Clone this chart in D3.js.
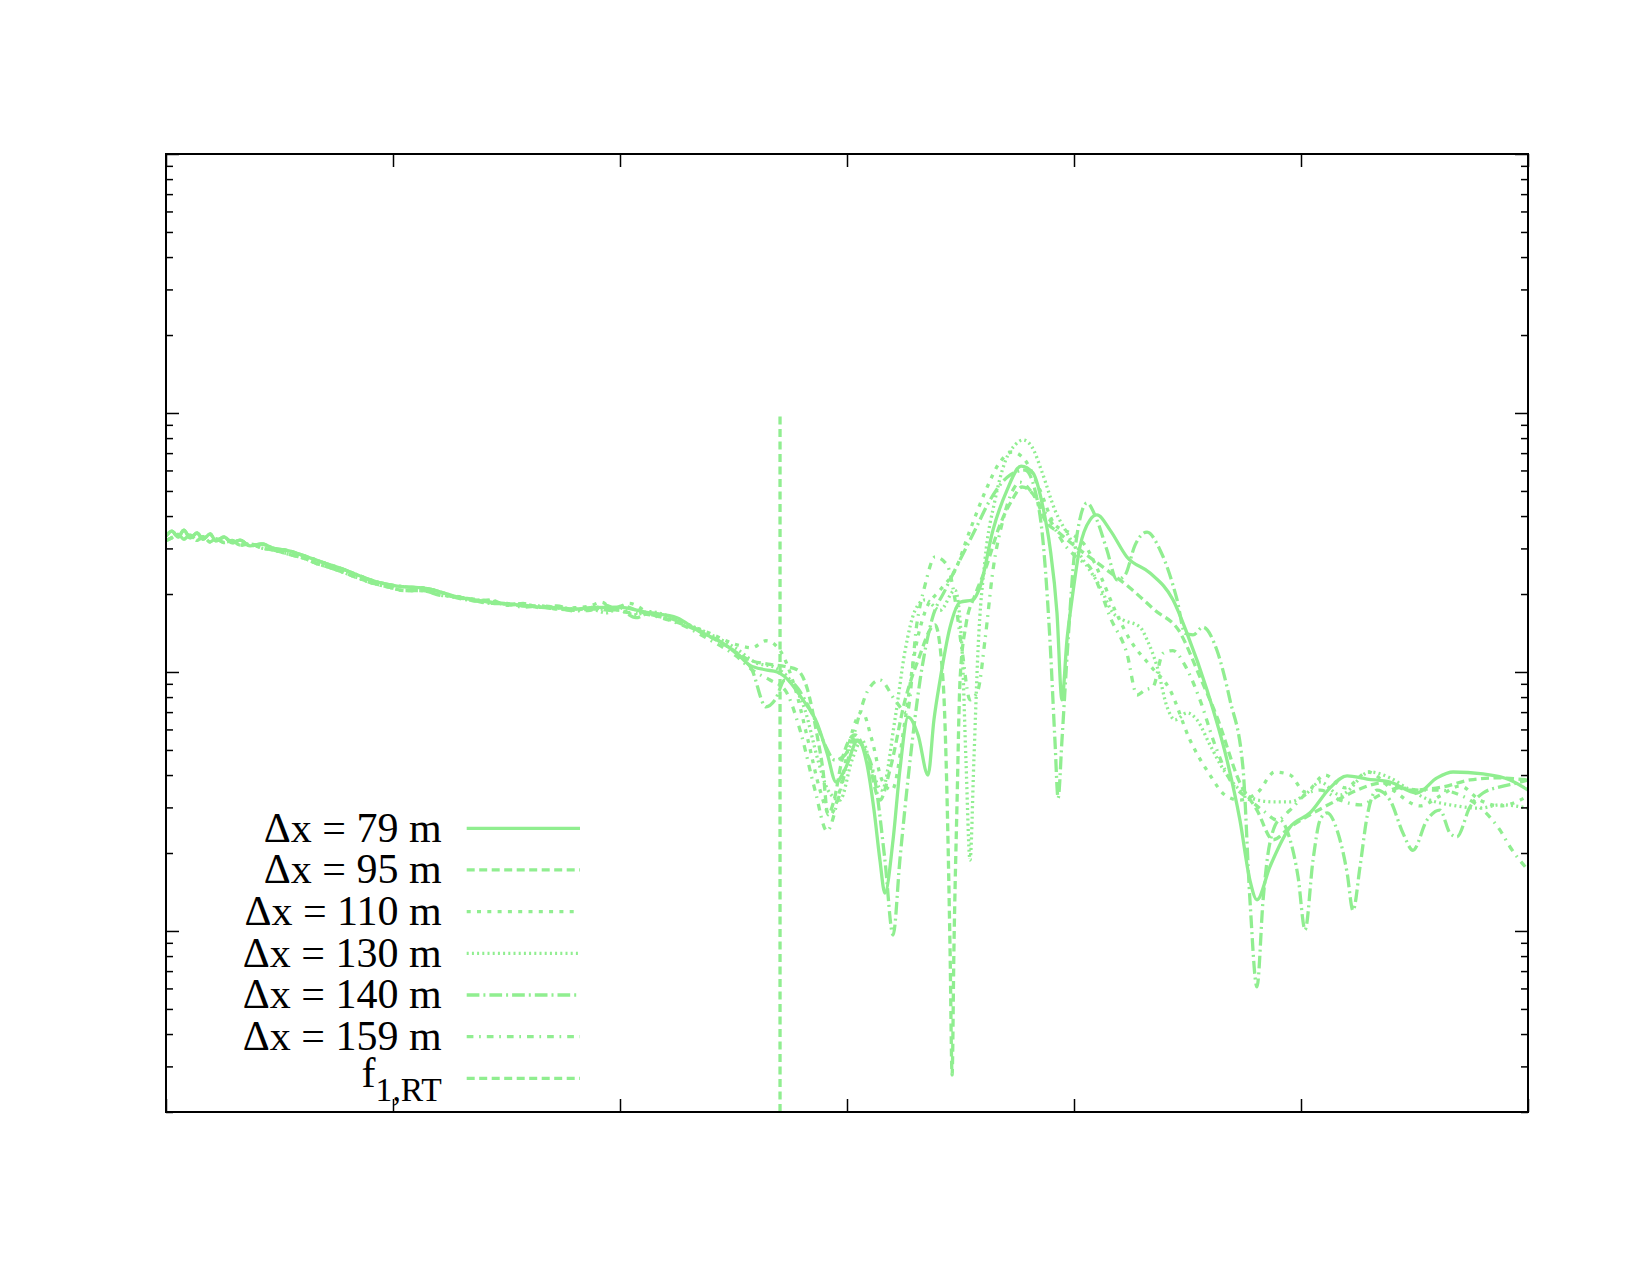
<!DOCTYPE html>
<html><head><meta charset="utf-8">
<script src="https://cdn.jsdelivr.net/npm/d3@7"></script>
<style>html,body{margin:0;padding:0;background:#fff}svg{display:block}</style>
</head><body>
<svg id="chart" width="1650" height="1275"></svg>
<script>
// ---------------- data ----------------
const xTicks = [0, 1, 2, 3, 4, 5, 6];
const yMajorTicks = [1e-3, 1e-2, 1e-1, 1];
const yMinorMultipliers = [2, 3, 4, 5, 6, 7, 8, 9];
const seriesLabels = ["Δx = 79 m", "Δx = 95 m", "Δx = 110 m", "Δx = 130 m", "Δx = 140 m", "Δx = 159 m"];

// common low-frequency part (upper and lower edge of the overlapping band)
const baseLeftA = [[0,0.0335],[0.026,0.0350],[0.053,0.0332],[0.079,0.0353],[0.106,0.0329],[0.137,0.0344],[0.163,0.0326],[0.194,0.0341],[0.220,0.0321],[0.256,0.0332],[0.291,0.0315],[0.326,0.0323],[0.370,0.0307],[0.423,0.0312],[0.471,0.0301],[0.546,0.0293],[0.612,0.0280],[0.665,0.0270],[0.722,0.0259],[0.767,0.0252],[0.833,0.0239],[0.912,0.0225],[0.987,0.0217],[1.053,0.0213],[1.132,0.0211],[1.207,0.0204]];
const baseLeftB = [[0,0.0322],[0.026,0.0330],[0.053,0.0340],[0.079,0.0326],[0.106,0.0338],[0.137,0.0322],[0.163,0.0333],[0.194,0.0318],[0.220,0.0327],[0.256,0.0316],[0.291,0.0322],[0.326,0.0309],[0.370,0.0312],[0.423,0.0301],[0.471,0.0296],[0.546,0.0284],[0.612,0.0274],[0.665,0.0262],[0.722,0.0253],[0.767,0.0245],[0.833,0.0233],[0.912,0.0220],[0.987,0.0212],[1.053,0.0206],[1.132,0.0206],[1.207,0.0198]];

const dx79 = [[1.282,0.0195],[1.361,0.0190],[1.427,0.0186],[1.502,0.0183],[1.573,0.0181],[1.648,0.0178],[1.722,0.0177],[1.802,0.0175],[1.868,0.0177],[1.987,0.0178],[2.132,0.0169],[2.251,0.0162],[2.339,0.0145],[2.454,0.0129],[2.515,0.0118],[2.573,0.0106],[2.639,0.0102],[2.692,0.0100],[2.722,0.00965],[2.806,0.00780],[2.868,0.00635],[2.912,0.00487],[2.952,0.00376],[2.996,0.00430],[3.048,0.00546],[3.084,0.00457],[3.119,0.00293],[3.145,0.00188],[3.167,0.00140],[3.203,0.00225],[3.233,0.00418],[3.269,0.00670],[3.313,0.00571],[3.357,0.00400],[3.383,0.00653],[3.410,0.00931],[3.454,0.0149],[3.498,0.0186],[3.555,0.0190],[3.586,0.0213],[3.643,0.0353],[3.705,0.0504],[3.767,0.0624],[3.819,0.0587],[3.863,0.0434],[3.894,0.0304],[3.925,0.0169],[3.947,0.00780],[3.969,0.0133],[3.991,0.0190],[4.026,0.0304],[4.070,0.0386],[4.101,0.0404],[4.159,0.0353],[4.233,0.0278],[4.335,0.0241],[4.436,0.0190],[4.498,0.0141],[4.586,0.00852],[4.674,0.00457],[4.731,0.00268],[4.775,0.00157],[4.806,0.00132],[4.863,0.00177],[4.952,0.00252],[5.040,0.00286],[5.128,0.00357],[5.203,0.00397],[5.291,0.00386],[5.392,0.00376],[5.511,0.00341],[5.599,0.00390],[5.670,0.00411],[5.802,0.00404],[5.921,0.00383],[6.000,0.00350]];

const dx95 = [[1.282,0.0196],[1.361,0.0188],[1.427,0.0190],[1.502,0.0181],[1.573,0.0184],[1.648,0.0177],[1.722,0.0180],[1.802,0.0173],[1.868,0.0178],[1.956,0.0173],[2.010,0.0180],[2.088,0.0171],[2.220,0.0159],[2.352,0.0143],[2.463,0.0127],[2.573,0.0111],[2.661,0.0107],[2.727,0.0105],[2.780,0.0102],[2.824,0.00867],[2.868,0.00571],[2.894,0.00418],[2.916,0.00281],[2.943,0.00320],[2.978,0.00457],[3.035,0.00571],[3.093,0.00457],[3.145,0.00320],[3.189,0.00418],[3.256,0.00780],[3.313,0.0111],[3.388,0.0152],[3.423,0.00931],[3.441,0.00320],[3.454,0.000845],[3.463,0.000278],[3.471,0.000845],[3.485,0.00320],[3.498,0.00931],[3.524,0.0152],[3.564,0.0198],[3.608,0.0247],[3.674,0.0370],[3.727,0.0461],[3.771,0.0518],[3.828,0.0474],[3.872,0.0386],[3.930,0.0347],[4.026,0.0296],[4.115,0.0259],[4.247,0.0211],[4.357,0.0173],[4.463,0.0144],[4.555,0.00956],[4.630,0.00670],[4.731,0.00373],[4.806,0.00293],[4.877,0.00225],[4.952,0.00252],[5.040,0.00281],[5.159,0.00320],[5.247,0.00350],[5.361,0.00373],[5.480,0.00350],[5.626,0.00360],[5.744,0.00383],[5.863,0.00390],[6.000,0.00383]];

const dx110 = [[1.282,0.0193],[1.361,0.0191],[1.427,0.0184],[1.502,0.0184],[1.573,0.0180],[1.648,0.0180],[1.722,0.0175],[1.802,0.0177],[1.868,0.0180],[1.920,0.0186],[1.970,0.0174],[2.040,0.0184],[2.132,0.0168],[2.264,0.0156],[2.396,0.0141],[2.507,0.0128],[2.581,0.0124],[2.643,0.0132],[2.705,0.0121],[2.771,0.00867],[2.828,0.00546],[2.881,0.00350],[2.925,0.00281],[2.969,0.00350],[3.013,0.00546],[3.066,0.00701],[3.110,0.00546],[3.154,0.00383],[3.198,0.00350],[3.256,0.00653],[3.300,0.0121],[3.344,0.0171],[3.410,0.0207],[3.476,0.0247],[3.542,0.0353],[3.608,0.0495],[3.674,0.0647],[3.727,0.0707],[3.784,0.0658],[3.850,0.0504],[3.916,0.0370],[3.982,0.0344],[4.048,0.0309],[4.115,0.0237],[4.181,0.0173],[4.247,0.0133],[4.335,0.0106],[4.423,0.00852],[4.511,0.00546],[4.599,0.00400],[4.665,0.00335],[4.731,0.00320],[4.811,0.00344],[4.885,0.00411],[4.952,0.00400],[5.018,0.00344],[5.106,0.00400],[5.194,0.00357],[5.295,0.00411],[5.405,0.00350],[5.524,0.00304],[5.612,0.00332],[5.700,0.00363],[5.789,0.00320],[5.877,0.00304],[6.000,0.00332]];

const dx130 = [[1.282,0.0195],[1.361,0.0190],[1.427,0.0188],[1.502,0.0183],[1.573,0.0183],[1.648,0.0178],[1.722,0.0178],[1.802,0.0175],[1.868,0.0175],[1.940,0.0169],[2.000,0.0177],[2.060,0.0166],[2.132,0.0171],[2.264,0.0157],[2.396,0.0140],[2.507,0.0124],[2.595,0.0109],[2.683,0.0104],[2.749,0.00931],[2.815,0.00713],[2.872,0.00457],[2.916,0.00350],[2.969,0.00320],[3.022,0.00457],[3.066,0.00546],[3.110,0.00418],[3.154,0.00350],[3.211,0.00653],[3.256,0.0121],[3.300,0.0173],[3.344,0.0190],[3.410,0.0173],[3.476,0.0207],[3.507,0.0121],[3.524,0.00457],[3.542,0.00188],[3.559,0.00457],[3.577,0.0121],[3.608,0.0271],[3.652,0.0461],[3.696,0.0647],[3.740,0.0752],[3.775,0.0787],[3.815,0.0739],[3.859,0.0592],[3.916,0.0422],[3.969,0.0344],[4.040,0.0271],[4.115,0.0213],[4.172,0.0169],[4.216,0.0159],[4.291,0.0149],[4.322,0.0133],[4.366,0.0105],[4.410,0.00733],[4.445,0.00653],[4.498,0.00695],[4.542,0.00653],[4.599,0.00523],[4.665,0.00411],[4.731,0.00350],[4.811,0.00320],[4.885,0.00315],[4.952,0.00315],[5.026,0.00341],[5.084,0.00376],[5.172,0.00335],[5.304,0.00411],[5.392,0.00390],[5.480,0.00350],[5.568,0.00320],[5.656,0.00307],[5.789,0.00298],[5.877,0.00307],[6.000,0.00298]];

const dx140 = [[1.282,0.0193],[1.361,0.0188],[1.427,0.0184],[1.502,0.0183],[1.573,0.0180],[1.648,0.0178],[1.722,0.0175],[1.802,0.0173],[1.868,0.0175],[2.000,0.0173],[2.070,0.0162],[2.132,0.0169],[2.264,0.0156],[2.396,0.0138],[2.507,0.0119],[2.581,0.0102],[2.643,0.00733],[2.683,0.00780],[2.727,0.00931],[2.771,0.00891],[2.815,0.00780],[2.859,0.00653],[2.903,0.00523],[2.947,0.00457],[2.991,0.00478],[3.035,0.00546],[3.079,0.00500],[3.123,0.00383],[3.167,0.00188],[3.203,0.000965],[3.233,0.00188],[3.278,0.00457],[3.322,0.00931],[3.374,0.0159],[3.432,0.0207],[3.498,0.0271],[3.564,0.0353],[3.630,0.0461],[3.718,0.0576],[3.784,0.0602],[3.828,0.0504],[3.863,0.0323],[3.894,0.0133],[3.916,0.00546],[3.930,0.00326],[3.947,0.00546],[3.974,0.0133],[4.004,0.0296],[4.057,0.0449],[4.101,0.0386],[4.145,0.0296],[4.189,0.0227],[4.225,0.0237],[4.269,0.0309],[4.322,0.0347],[4.379,0.0296],[4.454,0.0190],[4.489,0.0141],[4.524,0.0139],[4.568,0.0149],[4.630,0.0121],[4.687,0.00780],[4.744,0.00430],[4.775,0.00132],[4.806,0.000608],[4.833,0.00132],[4.863,0.00219],[4.907,0.00268],[4.952,0.00225],[4.987,0.00162],[5.018,0.00101],[5.053,0.00188],[5.084,0.00268],[5.115,0.00286],[5.159,0.00245],[5.203,0.00168],[5.229,0.00120],[5.260,0.00177],[5.291,0.00276],[5.335,0.00350],[5.392,0.00320],[5.449,0.00239],[5.493,0.00205],[5.555,0.00268],[5.612,0.00293],[5.656,0.00239],[5.687,0.00231],[5.744,0.00301],[5.802,0.00341],[5.877,0.00360],[5.952,0.00373],[6.000,0.00383]];

const dx159 = [[1.282,0.0196],[1.361,0.0190],[1.427,0.0186],[1.502,0.0184],[1.573,0.0178],[1.648,0.0180],[1.722,0.0177],[1.802,0.0172],[1.868,0.0173],[1.930,0.0181],[2.000,0.0172],[2.132,0.0166],[2.264,0.0153],[2.396,0.0133],[2.507,0.0116],[2.595,0.0100],[2.661,0.00931],[2.727,0.00852],[2.793,0.00597],[2.859,0.00350],[2.912,0.00243],[2.960,0.00320],[3.004,0.00457],[3.048,0.00653],[3.093,0.00852],[3.145,0.00931],[3.211,0.00780],[3.264,0.00695],[3.308,0.0154],[3.344,0.0217],[3.388,0.0278],[3.441,0.0259],[3.476,0.0190],[3.507,0.0121],[3.542,0.00780],[3.577,0.00852],[3.608,0.0133],[3.643,0.0247],[3.687,0.0386],[3.731,0.0504],[3.762,0.0541],[3.806,0.0504],[3.850,0.0441],[3.894,0.0386],[3.960,0.0309],[4.026,0.0271],[4.070,0.0254],[4.115,0.0207],[4.159,0.0163],[4.233,0.0118],[4.278,0.00815],[4.313,0.00852],[4.348,0.00875],[4.392,0.0118],[4.436,0.0121],[4.489,0.0106],[4.555,0.00780],[4.621,0.00523],[4.687,0.00383],[4.775,0.00320],[4.841,0.00288],[4.894,0.00268],[4.952,0.00293],[5.018,0.00335],[5.084,0.00350],[5.172,0.00320],[5.260,0.00307],[5.348,0.00335],[5.436,0.00357],[5.524,0.00350],[5.612,0.00350],[5.700,0.00335],[5.802,0.00293],[5.877,0.00245],[5.921,0.00211],[6.000,0.00172]];

// first Rayleigh-type frequency marker
const f1RT = [[2.705, 0.097], [2.705, 0.0002]];

// ---------------- layout ----------------
const L = 166, R = 1528, T = 154, B = 1112;
const color = "#90ee90";
const lw = 3.3;
const svg = d3.select("#chart");

const x = d3.scaleLinear().domain([0, 6]).range([L, R]);
const y = d3.scaleLog().domain([2e-4, 1]).range([B, T]);

const series = [
  {label: seriesLabels[0], data: baseLeftA.concat(dx79),  dash: null},
  {label: seriesLabels[1], data: baseLeftB.concat(dx95),  dash: "8,4.5"},
  {label: seriesLabels[2], data: baseLeftA.concat(dx110), dash: "4,6.3"},
  {label: seriesLabels[3], data: baseLeftB.concat(dx130), dash: "2,3.2"},
  {label: seriesLabels[4], data: baseLeftA.concat(dx140), dash: "12.7,4,2,4"},
  {label: seriesLabels[5], data: baseLeftB.concat(dx159), dash: "6.7,5.7,1.7,6"}
];

svg.append("defs").append("clipPath").attr("id", "clip")
  .append("rect").attr("x", L).attr("y", T).attr("width", R - L).attr("height", B - T);

const plot = svg.append("g").attr("clip-path", "url(#clip)");
const line = d3.line().x(d => x(d[0])).y(d => y(d[1])).curve(d3.curveMonotoneX);

series.forEach(s => {
  plot.append("path").datum(s.data)
    .attr("d", line).attr("fill", "none").attr("stroke", color)
    .attr("stroke-width", lw).attr("stroke-linejoin", "round")
    .attr("stroke-dasharray", s.dash);
});
plot.append("path").datum(f1RT)
  .attr("d", d3.line().x(d => x(d[0])).y(d => y(d[1])))
  .attr("fill", "none").attr("stroke", color).attr("stroke-width", lw)
  .attr("stroke-dasharray", "8,4.5");

// ---------------- axes (ticks inward, no labels) ----------------
const minorTicks = [];
[1e-4, 1e-3, 1e-2, 1e-1].forEach(dec => yMinorMultipliers.forEach(m => {
  const v = dec * m; if (v >= 2e-4 && v <= 1) minorTicks.push(v);
}));

function styleAxis(g) {
  g.select(".domain").remove();
  g.selectAll(".tick line").attr("stroke", "#000").attr("stroke-width", 1.5);
  g.selectAll(".tick text").remove();
}
svg.append("g").attr("transform", `translate(0,${B})`)
  .call(d3.axisBottom(x).tickValues(xTicks).tickSizeInner(-13).tickSizeOuter(0).tickFormat("")).call(styleAxis);
svg.append("g").attr("transform", `translate(0,${T})`)
  .call(d3.axisTop(x).tickValues(xTicks).tickSizeInner(-13).tickSizeOuter(0).tickFormat("")).call(styleAxis);
svg.append("g").attr("transform", `translate(${L},0)`)
  .call(d3.axisLeft(y).tickValues(yMajorTicks).tickSizeInner(-13).tickSizeOuter(0).tickFormat("")).call(styleAxis);
svg.append("g").attr("transform", `translate(${L},0)`)
  .call(d3.axisLeft(y).tickValues(minorTicks).tickSizeInner(-7).tickSizeOuter(0).tickFormat("")).call(styleAxis);
svg.append("g").attr("transform", `translate(${R},0)`)
  .call(d3.axisRight(y).tickValues(yMajorTicks).tickSizeInner(-13).tickSizeOuter(0).tickFormat("")).call(styleAxis);
svg.append("g").attr("transform", `translate(${R},0)`)
  .call(d3.axisRight(y).tickValues(minorTicks).tickSizeInner(-7).tickSizeOuter(0).tickFormat("")).call(styleAxis);

svg.append("rect").attr("x", L).attr("y", T).attr("width", R - L).attr("height", B - T)
  .attr("fill", "none").attr("stroke", "#000").attr("stroke-width", 2);

// ---------------- legend ----------------
const legFont = "'Liberation Serif','Times New Roman',serif";
const legX = 441.7, lx0 = 466.7, lx1 = 580, ly0 = 828.3, lstep = 41.67;
const legendItems = series.map(s => ({label: s.label, dash: s.dash})).concat([{label: null, dash: "8,4.5"}]);
const legText = svg.append("text").attr("text-anchor", "end")
  .attr("font-family", legFont).attr("font-size", 42).attr("fill", "#000");
legendItems.forEach((it, i) => {
  const ly = ly0 + i * lstep;
  svg.append("line").attr("x1", lx0).attr("x2", lx1).attr("y1", ly).attr("y2", ly)
    .attr("stroke", color).attr("stroke-width", lw).attr("stroke-dasharray", it.dash);
  if (it.label) {
    legText.append("tspan").attr("x", legX).attr("y", ly + 13.4).text(it.label);
  } else {
    legText.append("tspan").attr("x", legX).attr("y", ly + 8.4).text("f");
    legText.append("tspan").attr("font-size", 33.6).attr("dy", 14).text("1,RT");
  }
});
</script>
</body></html>
